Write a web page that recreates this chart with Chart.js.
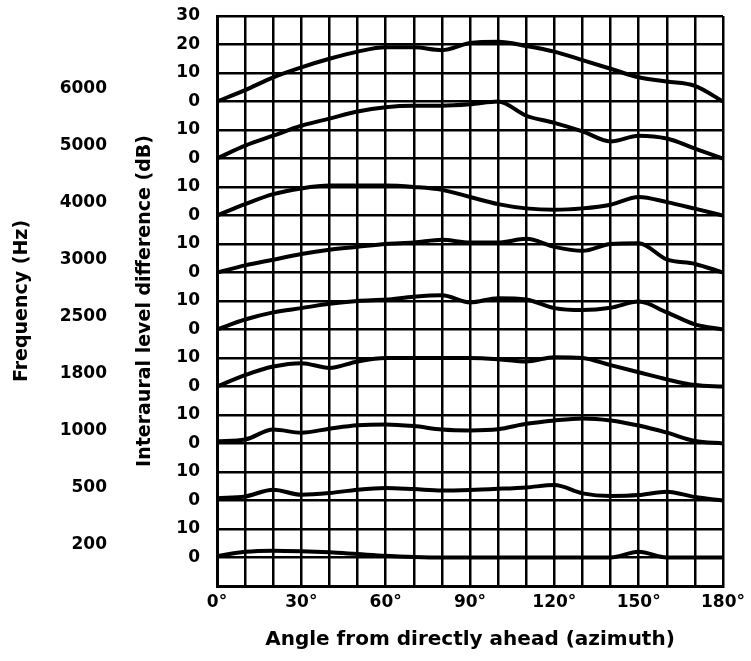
<!DOCTYPE html>
<html>
<head>
<meta charset="utf-8">
<script src="https://cdn.jsdelivr.net/npm/chart.js@4.4.0/dist/chart.umd.min.js"></script>
<style>
  body { margin: 0; background: #fff; }
</style>
</head>
<body>
<canvas id="chartIld" width="751" height="661"></canvas>
<script>
// azimuth in degrees, level difference in dB (one row per frequency, bottom to top)
const angles = [0, 10, 20, 30, 40, 50, 60, 70, 80, 90, 100, 110, 120, 130, 140, 150, 160, 170, 180];
const freqLabels = ['200', '500', '1000', '1800', '2500', '3000', '4000', '5000', '6000'];
const bandStep = 20;

const ild200  = [0.5, 2, 2.4, 2.2, 1.8, 1.2, 0.6, 0.2, 0, 0, 0, 0, 0, 0, 0, 2, 0, 0, 0];
const ild500  = [0.8, 1.4, 3.8, 2, 2.6, 3.8, 4.4, 4, 3.5, 3.7, 4.1, 4.6, 5.4, 2.5, 1.6, 1.9, 3.1, 1.2, 0];
const ild1000 = [0.8, 1.4, 4.9, 3.8, 5.2, 6.4, 6.7, 6.1, 4.9, 4.6, 5, 6.9, 8.1, 8.8, 8.1, 6.3, 3.8, 0.9, 0];
const ild1800 = [0, 4, 7, 8.2, 6.5, 8.8, 10, 10, 10, 10, 9.6, 8.8, 10.3, 10, 7.5, 5, 2.5, 0.5, 0];
const ild2500 = [0, 3.5, 6, 7.5, 9, 10, 10.5, 11.5, 12, 9.5, 11, 10.5, 7.5, 6.8, 7.6, 9.8, 6, 1.8, 0];
const ild3000 = [0, 2.5, 4.5, 6.5, 8, 9, 10, 10.5, 11.5, 10.5, 10.5, 11.8, 9, 7.6, 10, 10.3, 4.6, 3, 0];
const ild4000 = [0, 4, 7.5, 9.5, 10.5, 10.5, 10.5, 10, 9, 6.5, 4, 2.5, 2, 2.5, 3.8, 6.5, 4.7, 2.4, 0];
const ild5000 = [0, 4.5, 8, 11.5, 14, 16.5, 18, 18.5, 18.5, 19, 20, 15, 12.5, 9.5, 6, 8, 7, 3.5, 0];
const ild6000 = [0, 4, 8.5, 12, 15, 17.5, 19, 19, 18, 20.5, 21, 19.5, 17.5, 14.5, 11.5, 8.5, 7, 5.5, 0];

document.addEventListener('DOMContentLoaded', function() {
    const ctx = document.getElementById('chartIld').getContext('2d');
    const bands = [ild200, ild500, ild1000, ild1800, ild2500, ild3000, ild4000, ild5000, ild6000];
    const tickFont = { family: 'DejaVu Sans', size: 17, weight: 'bold' };

    const datasets = bands.map(function(values, i) {
        return {
            label: freqLabels[i] + ' Hz',
            data: values.map(function(v, j) {
                return { x: angles[j], y: v + i * bandStep };
            }),
            borderColor: '#000',
            borderWidth: 4,
            pointRadius: 0,
            cubicInterpolationMode: 'monotone',
            fill: false
        };
    });

    // fixed axis widths; drop the label overhang so the plot can start near the top
    function fixWidth(w) {
        return function(scale) {
            scale.width = w;
            scale.paddingTop = 0;
            scale.paddingBottom = 0;
        };
    }

    new Chart(ctx, {
        type: 'line',
        data: { datasets: datasets },
        options: {
            responsive: false,
            animation: false,
            layout: { padding: { top: 16, right: 27, bottom: 0, left: 0 } },
            plugins: {
                legend: { display: false },
                tooltip: { enabled: false }
            },
            scales: {
                x: {
                    type: 'linear',
                    position: 'bottom',
                    min: 0,
                    max: 180,
                    afterFit: function(scale) { scale.height = 75; },
                    grid: { color: '#000', lineWidth: 2.5, drawTicks: false },
                    border: { color: '#000', width: 3 },
                    ticks: {
                        stepSize: 10,
                        autoSkip: false,
                        maxRotation: 0,
                        padding: 6,
                        color: '#000',
                        font: tickFont,
                        callback: function(v) { return v % 30 === 0 ? v + '°' : ''; }
                    },
                    title: {
                        display: true,
                        text: 'Angle from directly ahead (azimuth)',
                        color: '#000',
                        font: { family: 'DejaVu Sans', size: 20, weight: 'bold' },
                        padding: { top: 0, bottom: 9 }
                    }
                },
                y: {
                    type: 'linear',
                    position: 'left',
                    weight: 0,
                    min: -10,
                    max: 190,
                    afterFit: fixWidth(87),
                    grid: { color: '#000', lineWidth: 2.5, drawTicks: false },
                    border: { color: '#000', width: 3 },
                    ticks: {
                        stepSize: 10,
                        autoSkip: false,
                        padding: 17,
                        color: '#000',
                        font: tickFont,
                        callback: function(v) {
                            if (v < 0) return '';
                            if (v >= 8 * bandStep) return String(v - 8 * bandStep);
                            return String(v % bandStep);
                        }
                    },
                    title: {
                        display: true,
                        text: 'Interaural level difference (dB)',
                        color: '#000',
                        font: { family: 'DejaVu Sans', size: 19, weight: 'bold' },
                        padding: { top: 4, bottom: 0 }
                    }
                },
                yf: {
                    type: 'linear',
                    position: 'left',
                    weight: 1,
                    min: -10,
                    max: 190,
                    afterFit: fixWidth(130),
                    afterBuildTicks: function(scale) {
                        scale.ticks = freqLabels.map(function(f, i) {
                            return { value: i * bandStep + 4.5 };
                        });
                    },
                    grid: { display: false, drawTicks: false },
                    border: { display: false },
                    ticks: {
                        autoSkip: false,
                        padding: 23,
                        color: '#000',
                        font: tickFont,
                        callback: function(v, i) { return freqLabels[i]; }
                    },
                    title: {
                        display: true,
                        text: 'Frequency (Hz)',
                        color: '#000',
                        font: { family: 'DejaVu Sans', size: 19, weight: 'bold' },
                        padding: { top: 11, bottom: 0 }
                    }
                }
            }
        }
    });
});
</script>
</body>
</html>
